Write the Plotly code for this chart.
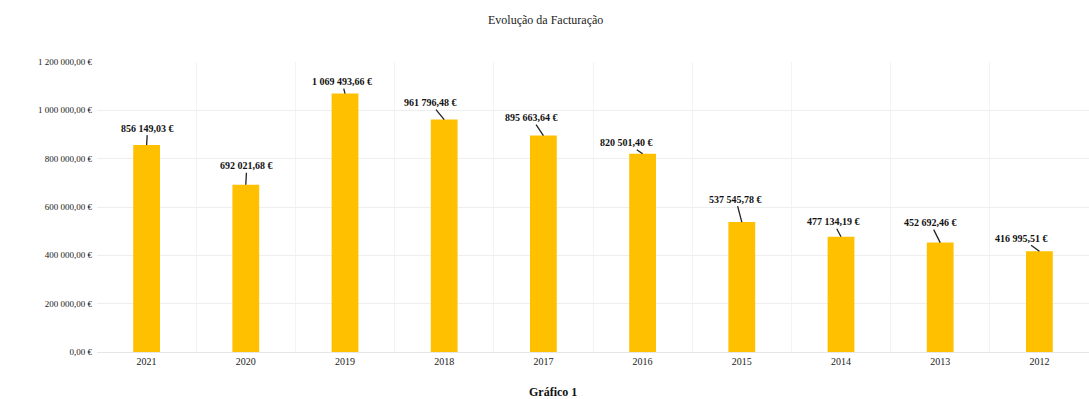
import plotly.graph_objects as go

years = ["2021", "2020", "2019", "2018", "2017", "2016", "2015", "2014", "2013", "2012"]
revenue = [856149.03, 692021.68, 1069493.66, 961796.48, 895663.64, 820501.40, 537545.78, 477134.19, 452692.46, 416995.51]
value_labels = ["856 149,03 €", "692 021,68 €", "1 069 493,66 €", "961 796,48 €", "895 663,64 €",
                "820 501,40 €", "537 545,78 €", "477 134,19 €", "452 692,46 €", "416 995,51 €"]
y_ticks = [0, 200000, 400000, 600000, 800000, 1000000, 1200000]
y_tick_labels = ["0,00 €", "200 000,00 €", "400 000,00 €", "600 000,00 €", "800 000,00 €", "1 000 000,00 €", "1 200 000,00 €"]
label_offsets_x = [1, 1, -3, -14, -12, -16, -6, -8, -10, -18]
label_offsets_y = [-17, -19, -12, -17, -18, -11, -23, -15, -20, -13]

FONT = "Liberation Serif"
fig = go.Figure(go.Bar(x=years, y=revenue, marker_color="#FFC000", marker_line_width=0, width=0.27))

for i, (v, t, ax, ay) in enumerate(zip(revenue, value_labels, label_offsets_x, label_offsets_y)):
    fig.add_annotation(x=i, y=v, text="<b>" + t + "</b>", showarrow=True, arrowhead=0, arrowwidth=1.3,
                       arrowcolor="#222222", ax=ax, ay=ay, standoff=0,
                       font=dict(family=FONT, size=10, color="#111111"))

fig.add_annotation(text="Evolução da Facturação", xref="paper", yref="paper", x=0.4526, y=1 + 42/290,
                   showarrow=False, yanchor="middle", font=dict(family=FONT, size=12, color="#222222"))
fig.add_annotation(text="<b>Gráfico 1</b>", xref="paper", yref="paper", x=0.46, y=-40/290,
                   showarrow=False, yanchor="middle", font=dict(family=FONT, size=12, color="#111111"))

fig.update_layout(
    width=1089, height=399,
    margin=dict(l=97, r=0, t=62, b=47),
    plot_bgcolor="white", paper_bgcolor="white",
    showlegend=False,
    xaxis=dict(type="category", range=[-0.5, len(years) - 0.5], tickson="boundaries", showgrid=True,
               gridcolor="#f3f3f3", ticks="", tickangle=0,
               tickfont=dict(family=FONT, size=10, color="#222222"), showline=True, linecolor="#e6e6e6"),
    yaxis=dict(range=[0, 1200000], tickvals=y_ticks, ticktext=y_tick_labels, showgrid=True,
               gridcolor="#eeeeee", zeroline=False, ticks="", ticklabelstandoff=4,
               tickfont=dict(family=FONT, size=9, color="#222222")),
)
fig.write_html("out.html")
